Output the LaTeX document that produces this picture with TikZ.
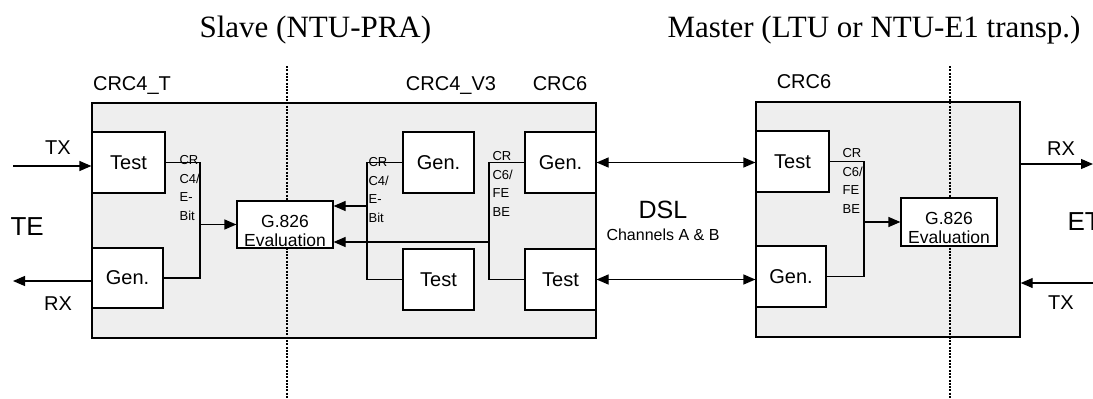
\documentclass[tikz,border=0pt]{standalone}
\usepackage{fontspec}
\setmainfont{Liberation Sans}
\newfontfamily\titlefont{Liberation Serif}
\usetikzlibrary{arrows.meta}
\definecolor{unitgray}{RGB}{238,238,238}

\begin{document}
\begin{tikzpicture}[x=1pt, y=-1pt, line width=1.2pt,
  unit/.style={draw, fill=unitgray, line width=1.4pt, inner sep=0pt},
  blk/.style={draw, fill=white, font=\fontsize{20}{24}\selectfont, inner sep=0pt},
  evalbox/.style={draw, fill=white, inner sep=0pt},
  evaltext/.style={font=\fontsize{17.5}{19}\selectfont, align=center, inner sep=0pt},
  bits/.style={font=\fontsize{13}{18.5}\selectfont, align=left, inner sep=0pt, anchor=north west},
  lbl/.style={font=\fontsize{20}{24}\selectfont, inner sep=0pt, anchor=base},
  big/.style={font=\fontsize{26}{30}\selectfont, inner sep=0pt, anchor=base},
  title/.style={font=\titlefont\fontsize{31}{36}\selectfont, inner sep=0pt, anchor=base west},
  sig/.style={-{Triangle[length=12pt,width=10pt]}},
  both/.style={{Triangle[length=12pt,width=10pt]}-{Triangle[length=12pt,width=10pt]}},
  side/.style={dash pattern=on 2pt off 1.3pt, line width=1.8pt}]
  \useasboundingbox[fill=white] (0,0) rectangle (1093,399);

  \node[title] (slavetitle) at (199,37) {Slave (NTU-PRA)};
  \node[title] (mastertitle) at (667,37) {Master (LTU or NTU-E1 transp.)};

  \node[unit, minimum width=504pt, minimum height=235pt] (slave) at (344,220.5) {};
  \node[unit, minimum width=264pt, minimum height=235pt] (master) at (888,219.5) {};

  \draw[side] (287,66) -- (287,399);
  \draw[side] (950,66) -- (950,399);

  \node[lbl] (crc4t) at (132,90) {CRC4\_T};
  \node[lbl] (crc4v3) at (451,90) {CRC4\_V3};
  \node[lbl] (crc6s) at (560,90) {CRC6};
  \node[lbl] (crc6m) at (804,88) {CRC6};

  \node[blk, minimum width=73pt, minimum height=61pt] (test1) at (128.5,162.5) {Test};
  \node[blk, minimum width=71pt, minimum height=60pt] (gen1) at (127.5,278) {Gen.};
  \node[evalbox, minimum width=96pt, minimum height=47pt] (eval1) at (285,224.5) {};
  \node[evaltext] (eval1txt) at ([yshift=-6pt]eval1.center) {G.826\\Evaluation};
  \node[blk, minimum width=71pt, minimum height=61pt] (gen2) at (438.5,162.5) {Gen.};
  \node[blk, minimum width=71pt, minimum height=61pt] (test2) at (438.5,279.5) {Test};
  \node[blk, minimum width=71pt, minimum height=61pt] (gen3) at (560.5,162.5) {Gen.};
  \node[blk, minimum width=71pt, minimum height=61pt] (test3) at (560.5,279.5) {Test};
  \node[blk, minimum width=73pt, minimum height=61pt] (test4) at (792.5,161.5) {Test};
  \node[blk, minimum width=70pt, minimum height=61pt] (gen4) at (791,276.5) {Gen.};
  \node[evalbox, minimum width=96pt, minimum height=48pt] (eval2) at (949,222) {};
  \node[evaltext] (eval2txt) at ([yshift=-6pt]eval2.center) {G.826\\Evaluation};

  \coordinate (txl) at (13,166);
  \coordinate (rxl) at (13,281);
  \draw[sig] (txl) -- (test1.west |- txl);
  \draw[sig] (gen1.west |- rxl) -- (rxl);
  \node[lbl] (txlab) at (58,154) {TX};
  \node[lbl] (rxlab) at (58,310) {RX};
  \node[big, anchor=base west] (te) at (10,235) {TE};

  \coordinate (b1) at (200,0);
  \draw (test1.east) -| (b1 |- gen1.east) -- (gen1.east);
  \draw[sig] (b1 |- eval1.west) -- (eval1.west);
  \node[bits] (bits1) at (179,155) {CR\\C4/\\E-\\Bit};

  \coordinate (b2) at (367,0);
  \coordinate (a2) at (367,206);
  \draw (gen2.west) -| (b2 |- test2.west) -- (test2.west);
  \draw[sig] (a2) -- (eval1.east |- a2);
  \node[bits] (bits2) at (368,157) {CR\\C4/\\E-\\Bit};

  \coordinate (b3) at (489,0);
  \coordinate (a3) at (489,242);
  \draw (gen3.west) -| (b3 |- test3.west) -- (test3.west);
  \draw[sig] (a3) -- (eval1.east |- a3);
  \node[bits] (bits3) at (492,151) {CR\\C6/\\FE\\BE};

  \draw[both] (gen3.east) -- (test4.west |- gen3.east);
  \draw[both] (test3.east) -- (gen4.west |- test3.east);
  \node[big, font=\fontsize{25}{30}\selectfont] (dsl) at (663,218) {DSL};
  \node[lbl, font=\fontsize{16}{19}\selectfont] (chan) at (663,240) {Channels A \& B};

  \coordinate (b4) at (864,0);
  \draw (test4.east) -| (b4 |- gen4.east) -- (gen4.east);
  \draw[sig] (b4 |- eval2.west) -- (eval2.west);
  \node[bits] (bits4) at (842,148) {CR\\C6/\\FE\\BE};

  \coordinate (rxr) at (1093,164);
  \coordinate (txr) at (1093,283);
  \draw[sig] (master.east |- rxr) -- (rxr);
  \draw[sig] (txr) -- (master.east |- txr);
  \node[lbl] (rxrlab) at (1061,155) {RX};
  \node[lbl] (txrlab) at (1061,309) {TX};
  \node[big, anchor=base west] (et) at (1067,230) {ET};
\end{tikzpicture}
\end{document}
